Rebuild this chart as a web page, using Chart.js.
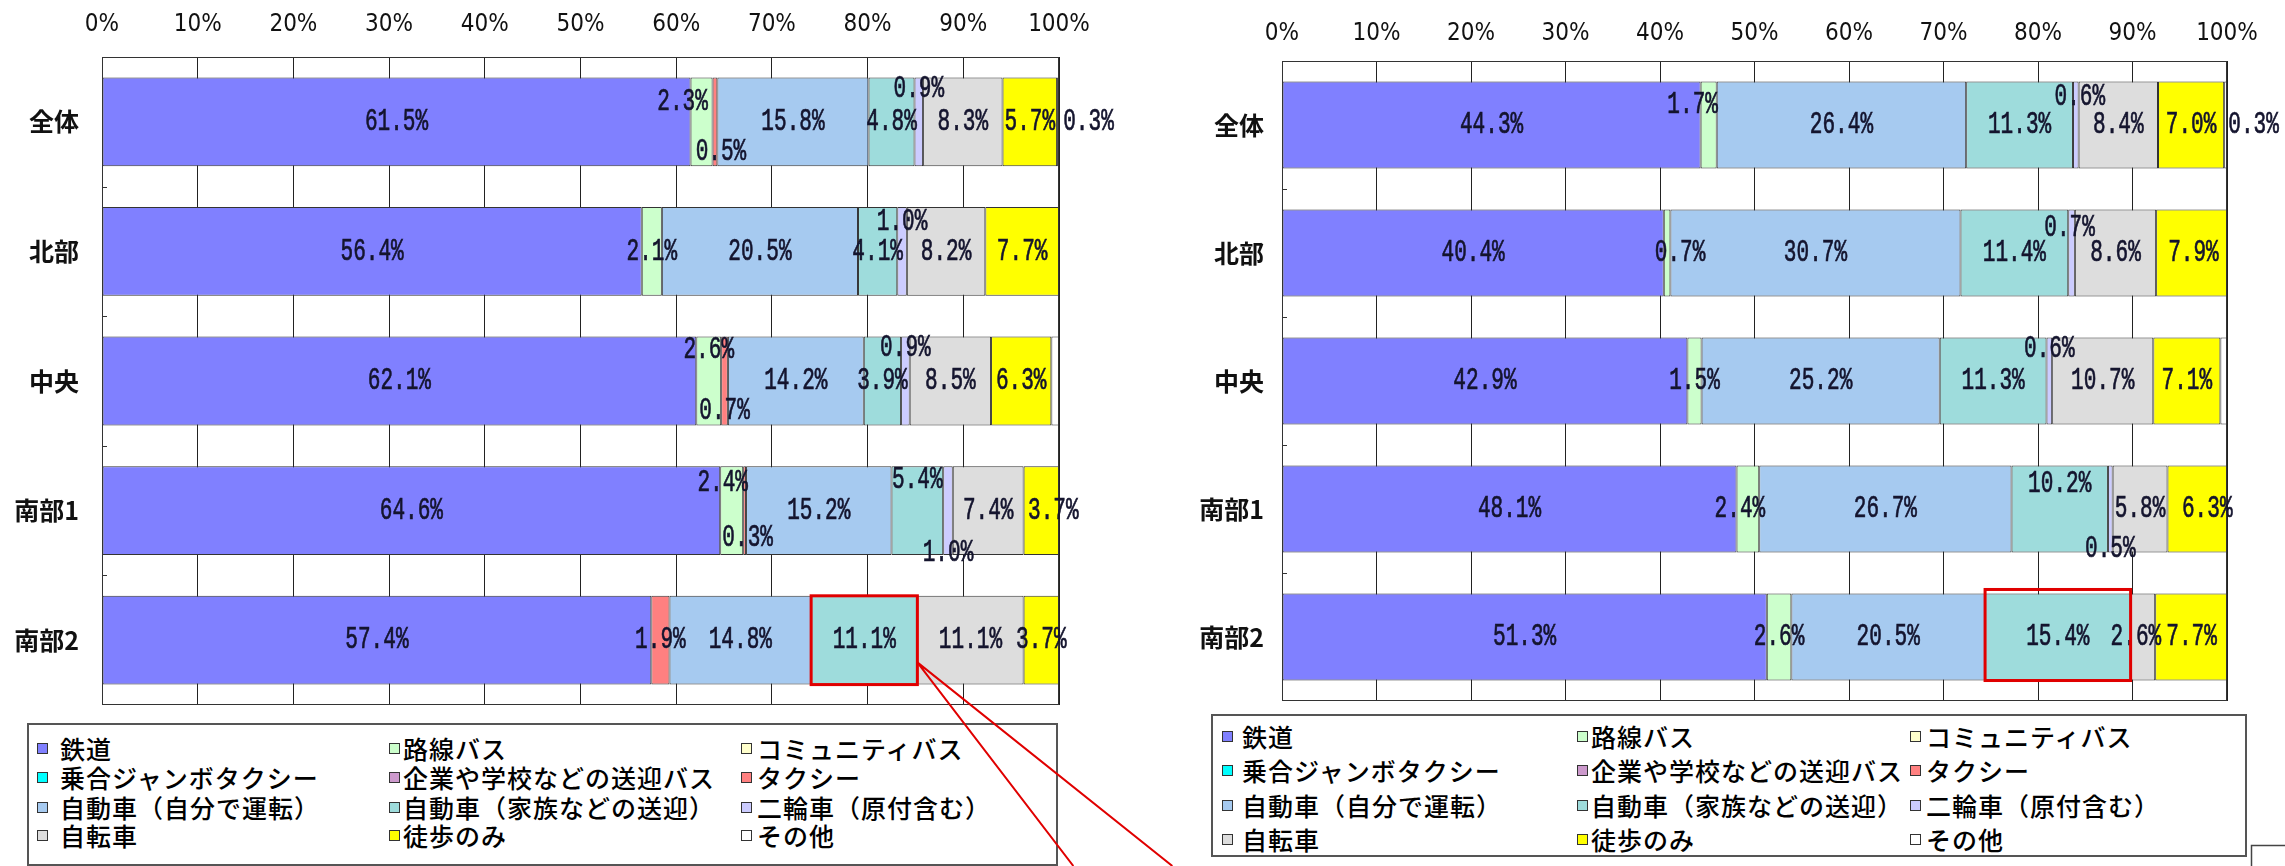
<!DOCTYPE html>
<html lang="ja">
<head>
<meta charset="utf-8">
<title>代表交通手段の構成比</title>
<script src="https://cdn.jsdelivr.net/npm/chart.js@4.4.1/dist/chart.umd.min.js"></script>
<style>
  html, body { margin: 0; padding: 0; background: #fff; }
  body { width: 2285px; height: 866px; position: relative; overflow: hidden; font-family: 'Noto Sans CJK JP', sans-serif; }
  canvas { position: absolute; top: 0; }
  #leftChart { left: 0; }
  #rightChart { left: 1150px; }
  #overlay { left: 0; z-index: 5; pointer-events: none; }
  .legend-box { position: absolute; border: 2px solid #555; background: #fff; box-sizing: border-box; }
  .legend-sw { position: absolute; width: 11px; height: 11px; border: 1px solid #333; box-sizing: border-box; }
  .legend-tx { position: absolute; height: 30px; line-height: 30px; font-size: 25px; font-weight: 500; letter-spacing: 1px; color: #000; white-space: nowrap; }
</style>
</head>
<body>
<canvas id="leftChart" width="1150" height="712"></canvas>
<canvas id="rightChart" width="1135" height="706"></canvas>
<canvas id="overlay" width="2285" height="866"></canvas>
<script>
// カテゴリ（地域）
const categories = ['全体', '北部', '中央', '南部1', '南部2'];

// 代表交通手段（凡例順）
const modes = [
  '鉄道', '路線バス', 'コミュニティバス',
  '乗合ジャンボタクシー', '企業や学校などの送迎バス', 'タクシー',
  '自動車（自分で運転）', '自動車（家族などの送迎）', '二輪車（原付含む）',
  '自転車', '徒歩のみ', 'その他'
];
const modeColors = [
  '#8080FF', '#CCFFCC', '#FFFFCC',
  '#00FFFF', '#CC99CC', '#FF8080',
  '#A6CAF0', '#9EDCDC', '#CCCCFF',
  '#DDDDDD', '#FFFF00', '#FFFFFF'
];

const tickValues = [0, 10, 20, 30, 40, 50, 60, 70, 80, 90, 100];

// 左グラフ（%）: 各行は modes の順
const leftZentai = [61.5, 2.3, 0, 0, 0, 0.5, 15.8, 4.8, 0.9, 8.3, 5.7, 0.3];
const leftHokubu = [56.4, 2.1, 0, 0, 0, 0, 20.5, 4.1, 1.0, 8.2, 7.7, 0];
const leftChuo   = [62.1, 2.6, 0, 0, 0, 0.7, 14.2, 3.9, 0.9, 8.5, 6.3, 0.8];
const leftNanbu1 = [64.6, 2.4, 0, 0, 0, 0.3, 15.2, 5.4, 1.0, 7.4, 3.7, 0];
const leftNanbu2 = [57.4, 0, 0, 0, 0, 1.9, 14.8, 11.1, 0, 11.1, 3.7, 0];

// 右グラフ（%）
const rightZentai = [44.3, 1.7, 0, 0, 0, 0, 26.4, 11.3, 0.6, 8.4, 7.0, 0.3];
const rightHokubu = [40.4, 0.7, 0, 0, 0, 0, 30.7, 11.4, 0.7, 8.6, 7.9, 0];
const rightChuo   = [42.9, 1.5, 0, 0, 0, 0, 25.2, 11.3, 0.6, 10.7, 7.1, 0.7];
const rightNanbu1 = [48.1, 2.4, 0, 0, 0, 0, 26.7, 10.2, 0.5, 5.8, 6.3, 0];
const rightNanbu2 = [51.3, 2.6, 0, 0, 0, 0, 20.5, 15.4, 0, 2.6, 7.7, 0];

// 小さい値のラベルのずらし（行-系列）。null は非表示
const leftNudges = {
  '0-1': [-19, -20], '0-5': [6, 30], '0-8': [0, -33], '0-11': [30, 0],
  '1-8': [0, -30],
  '2-1': [0, -31], '2-5': [0, 30], '2-8': [0, -33], '2-11': null,
  '3-1': [-9, -28], '3-5': [3, 27], '3-7': [0, -31], '3-8': [0, 42], '3-10': [12, 0]
};
const rightNudges = {
  '0-1': [-16, -20], '0-8': [4, -28], '0-11': [28, 0],
  '1-1': [13, 0], '1-8': [-2, -25],
  '2-8': [0, -32], '2-11': null,
  '3-1': [-8, 0], '3-7': [0, -25], '3-8': [0, 40], '3-10': [10, 0],
  '4-9': [-7, 0]
};

const frameLines = {
  id: 'frameLines',
  afterDatasetsDraw(chart) {
    const { ctx, chartArea: a } = chart;
    const y = chart.scales.y;
    ctx.save();
    ctx.strokeStyle = '#333';
    ctx.lineWidth = 1;
    ctx.strokeRect(a.left + 0.5, a.top + 0.5, a.right - a.left - 1, a.bottom - a.top - 1);
    // 区切りの小さい目盛り
    for (let i = 0; i < categories.length - 1; i++) {
      const yy = Math.round((y.getPixelForValue(i) + y.getPixelForValue(i + 1)) / 2) + 0.5;
      ctx.beginPath();
      ctx.moveTo(a.left, yy);
      ctx.lineTo(a.left + 5, yy);
      ctx.stroke();
    }
    ctx.restore();
  }
};

const valueLabels = {
  id: 'valueLabels',
  afterDatasetsDraw(chart, args, opts) {
    const ctx = chart.ctx;
    ctx.save();
    ctx.fillStyle = '#14142e';
    ctx.strokeStyle = '#14142e';
    ctx.lineWidth = 0.7;
    ctx.font = '31px "Liberation Mono", "DejaVu Sans Mono", monospace';
    ctx.textAlign = 'center';
    ctx.textBaseline = 'middle';
    chart.data.datasets.forEach((ds, di) => {
      chart.getDatasetMeta(di).data.forEach((bar, ri) => {
        const v = ds.data[ri];
        if (!v) return;
        const nudge = opts.nudges[ri + '-' + di];
        if (nudge === null) return;
        const d = nudge || [0, 0];
        const txt = v.toFixed(1) + '%';
        ctx.save();
        ctx.translate((bar.x + bar.base) / 2 + d[0], bar.y + d[1]);
        ctx.scale(0.68, 1);
        ctx.fillText(txt, 0, 0);
        ctx.strokeText(txt, 0, 0);
        ctx.restore();
      });
    });
    ctx.restore();
  }
};

const highlight = {
  id: 'highlight',
  afterDraw(chart, args, opts) {
    const bar = chart.getDatasetMeta(opts.series).data[opts.row];
    const h = bar.height;
    const ctx = chart.ctx;
    ctx.save();
    ctx.strokeStyle = '#E00000';
    ctx.lineWidth = 3;
    ctx.strokeRect(bar.base, bar.y - h / 2 - opts.lift, bar.x - bar.base, h + opts.lift);
    ctx.restore();
  }
};

function makeChart(id, rows, lay) {
  const datasets = modes.map((name, i) => ({
    label: name,
    data: rows.map(r => r[i]),
    backgroundColor: modeColors[i],
    borderColor: '#333',
    borderWidth: 1,
    borderSkipped: false,
    barPercentage: lay.barPct,
    categoryPercentage: 1
  }));
  return new Chart(document.getElementById(id), {
    type: 'bar',
    data: { labels: categories, datasets: datasets },
    options: {
      indexAxis: 'y',
      responsive: false,
      animation: false,
      layout: { padding: { left: 0, top: 0, right: lay.padRight, bottom: lay.padBottom } },
      plugins: {
        legend: { display: false },
        tooltip: { enabled: false },
        valueLabels: { nudges: lay.nudges },
        highlight: { row: 4, series: 7, lift: lay.lift }
      },
      scales: {
        x: {
          position: 'top',
          stacked: true,
          min: 0,
          max: 100,
          afterBuildTicks: s => { s.ticks = tickValues.map(v => ({ value: v })); },
          ticks: {
            callback: v => v + '%',
            color: '#111',
            padding: lay.tickPad,
            maxRotation: 0,
            font: { family: '"Liberation Sans Narrow", "DejaVu Sans Condensed", "Liberation Mono", monospace', size: 24 }
          },
          grid: { color: '#222', lineWidth: 1, drawTicks: false },
          border: { display: false },
          afterFit: s => { s.height = lay.top; s.paddingLeft = 0; s.paddingRight = 0; }
        },
        y: {
          stacked: true,
          ticks: {
            color: '#111',
            padding: lay.yPad,
            font: { family: '"Noto Sans CJK JP", sans-serif', size: 25, weight: 'bold' }
          },
          grid: { display: false, drawTicks: false },
          border: { display: false },
          afterFit: s => { s.width = lay.left; s.paddingTop = 0; s.paddingBottom = 0; }
        }
      }
    },
    plugins: [frameLines, valueLabels, highlight]
  });
}

const leftChart = makeChart('leftChart',
  [leftZentai, leftHokubu, leftChuo, leftNanbu1, leftNanbu2],
  { top: 57, left: 102, padRight: 91, padBottom: 7, barPct: 0.685, tickPad: 18, yPad: 23, nudges: leftNudges, lift: 0 });

const rightChart = makeChart('rightChart',
  [rightZentai, rightHokubu, rightChuo, rightNanbu1, rightNanbu2],
  { top: 61, left: 132, padRight: 58, padBottom: 5, barPct: 0.68, tickPad: 13, yPad: 18, nudges: rightNudges, lift: 4 });

function buildLegend(box, sqX, txX, rowY) {
  const b = document.createElement('div');
  b.className = 'legend-box';
  b.style.left = box[0] + 'px';
  b.style.top = box[1] + 'px';
  b.style.width = (box[2] - box[0]) + 'px';
  b.style.height = (box[3] - box[1]) + 'px';
  document.body.appendChild(b);
  modes.forEach((name, i) => {
    const col = i % 3, row = Math.floor(i / 3);
    const sw = document.createElement('div');
    sw.className = 'legend-sw';
    sw.style.left = sqX[col] + 'px';
    sw.style.top = (rowY[row] - 5) + 'px';
    sw.style.background = modeColors[i];
    document.body.appendChild(sw);
    const tx = document.createElement('div');
    tx.className = 'legend-tx';
    tx.style.left = txX[col] + 'px';
    tx.style.top = (rowY[row] - 15) + 'px';
    tx.textContent = name;
    document.body.appendChild(tx);
  });
}

buildLegend([27, 723, 1058, 866], [37, 389, 741], [60, 403, 757], [748, 777, 807, 835]);
buildLegend([1211, 714, 2247, 857], [1222, 1577, 1910], [1242, 1591, 1926], [736, 770, 805, 839]);

// 注記の赤線
const ov = document.getElementById('overlay').getContext('2d');
const hb = leftChart.getDatasetMeta(7).data[4];
const sx = hb.x, sy = hb.y + hb.height * 0.25;
ov.strokeStyle = '#E00000';
ov.lineWidth = 2;
ov.beginPath();
ov.moveTo(sx, sy); ov.lineTo(sx + 156, 866);
ov.moveTo(sx, sy); ov.lineTo(sx + 255, 866);
ov.stroke();
ov.strokeStyle = '#444';
ov.lineWidth = 1.5;
ov.strokeRect(2251.5, 845.5, 40, 30);
</script>
</body>
</html>
